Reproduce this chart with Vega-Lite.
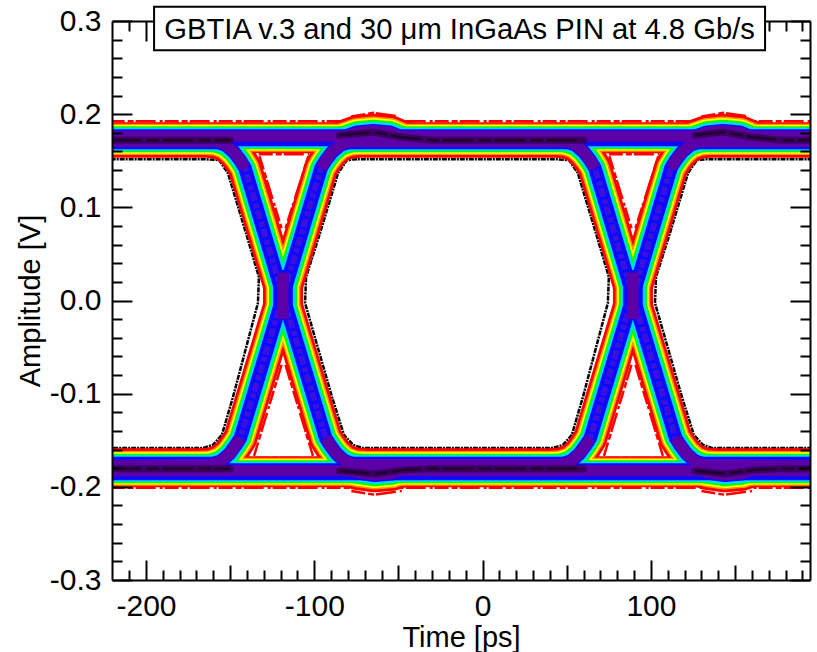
{"$schema":"https://vega.github.io/schema/vega-lite/v6.json","width":698,"height":559,"autosize":{"type":"none"},"padding":{"left":112,"top":21,"right":7,"bottom":72},"background":"white",
"config":{"view":{"stroke":null},"font":"Liberation Sans"},
"datasets":{
"bands":[
{"trace":"flatTop","t":-221,"v":0.1748},{"trace":"flatTop","t":196,"v":0.1748},
{"trace":"flatBot","t":-221,"v":-0.1839},{"trace":"flatBot","t":196,"v":-0.1839},
{"trace":"flatTa","t":-221,"v":0.1716},{"trace":"flatTa","t":-155,"v":0.1716},
{"trace":"flatTb","t":-82,"v":0.1716},{"trace":"flatTb","t":53,"v":0.1716},
{"trace":"flatTc","t":125,"v":0.1716},{"trace":"flatTc","t":196,"v":0.1716},
{"trace":"flatBa","t":-221,"v":-0.1769},{"trace":"flatBa","t":-155,"v":-0.1769},
{"trace":"flatBb","t":-82,"v":-0.1769},{"trace":"flatBb","t":53,"v":-0.1769},
{"trace":"flatBc","t":125,"v":-0.1769},{"trace":"flatBc","t":196,"v":-0.1769},
{"trace":"fall","t":-221,"v":0.1716},{"trace":"fall","t":-165.5,"v":0.1716},{"trace":"fall","t":-158.4,"v":0.1705},{"trace":"fall","t":-152.5,"v":0.1668},{"trace":"fall","t":-147.7,"v":0.1592},{"trace":"fall","t":-144.1,"v":0.1507},{"trace":"fall","t":-141.2,"v":0.1421},{"trace":"fall","t":-118.6,"v":0.0048},{"trace":"fall","t":-93.3,"v":-0.1475},{"trace":"fall","t":-90.3,"v":-0.156},{"trace":"fall","t":-86.8,"v":-0.1646},{"trace":"fall","t":-82,"v":-0.1721},{"trace":"fall","t":-76.1,"v":-0.1759},{"trace":"fall","t":-68.9,"v":-0.1769},{"trace":"fall","t":39.6,"v":-0.1769},{"trace":"fall","t":46.8,"v":-0.1759},{"trace":"fall","t":52.7,"v":-0.1721},{"trace":"fall","t":57.5,"v":-0.1646},{"trace":"fall","t":61,"v":-0.156},{"trace":"fall","t":64,"v":-0.1475},{"trace":"fall","t":89.3,"v":0.0048},{"trace":"fall","t":111.9,"v":0.1421},{"trace":"fall","t":114.8,"v":0.1507},{"trace":"fall","t":118.4,"v":0.1592},{"trace":"fall","t":123.2,"v":0.1668},{"trace":"fall","t":129.1,"v":0.1705},{"trace":"fall","t":136.2,"v":0.1716},{"trace":"fall","t":196,"v":0.1716},
{"trace":"rise","t":-221,"v":-0.1769},{"trace":"rise","t":-168.3,"v":-0.1769},{"trace":"rise","t":-161.1,"v":-0.1759},{"trace":"rise","t":-155.2,"v":-0.1721},{"trace":"rise","t":-150.4,"v":-0.1646},{"trace":"rise","t":-146.9,"v":-0.156},{"trace":"rise","t":-143.9,"v":-0.1475},{"trace":"rise","t":-118.6,"v":0.0048},{"trace":"rise","t":-96,"v":0.1421},{"trace":"rise","t":-93.1,"v":0.1507},{"trace":"rise","t":-89.5,"v":0.1592},{"trace":"rise","t":-84.7,"v":0.1668},{"trace":"rise","t":-78.8,"v":0.1705},{"trace":"rise","t":-71.7,"v":0.1716},{"trace":"rise","t":42.4,"v":0.1716},{"trace":"rise","t":49.5,"v":0.1705},{"trace":"rise","t":55.4,"v":0.1668},{"trace":"rise","t":60.2,"v":0.1592},{"trace":"rise","t":63.8,"v":0.1507},{"trace":"rise","t":66.7,"v":0.1421},{"trace":"rise","t":89.3,"v":0.0048},{"trace":"rise","t":114.6,"v":-0.1475},{"trace":"rise","t":117.6,"v":-0.156},{"trace":"rise","t":121.1,"v":-0.1646},{"trace":"rise","t":125.9,"v":-0.1721},{"trace":"rise","t":131.8,"v":-0.1759},{"trace":"rise","t":139,"v":-0.1769},{"trace":"rise","t":196,"v":-0.1769},
{"trace":"bumpT1","t":-84.7,"v":0.1743},{"trace":"bumpT1","t":-74.6,"v":0.1807},{"trace":"bumpT1","t":-65.1,"v":0.1823},{"trace":"bumpT1","t":-55,"v":0.1807},{"trace":"bumpT1","t":-47.9,"v":0.1753},{"trace":"bumpT1","t":-40.2,"v":0.1716},
{"trace":"bumpT2","t":123.2,"v":0.1743},{"trace":"bumpT2","t":133.3,"v":0.1807},{"trace":"bumpT2","t":142.8,"v":0.1823},{"trace":"bumpT2","t":152.9,"v":0.1807},{"trace":"bumpT2","t":160,"v":0.1753},{"trace":"bumpT2","t":167.7,"v":0.1716},
{"trace":"bumpB1","t":-84.7,"v":-0.1786},{"trace":"bumpB1","t":-74.6,"v":-0.185},{"trace":"bumpB1","t":-63.9,"v":-0.1877},{"trace":"bumpB1","t":-53.9,"v":-0.1861},{"trace":"bumpB1","t":-46.7,"v":-0.1818},{"trace":"bumpB1","t":-39,"v":-0.1775},
{"trace":"bumpB2","t":123.2,"v":-0.1786},{"trace":"bumpB2","t":133.3,"v":-0.185},{"trace":"bumpB2","t":144,"v":-0.1877},{"trace":"bumpB2","t":154,"v":-0.1861},{"trace":"bumpB2","t":161.2,"v":-0.1818},{"trace":"bumpB2","t":168.9,"v":-0.1775},
{"trace":"waist1a","t":-120.4,"v":0.0327},{"trace":"waist1a","t":-120.4,"v":-0.0209},
{"trace":"waist1b","t":-116.8,"v":0.0327},{"trace":"waist1b","t":-116.8,"v":-0.0209},
{"trace":"waist2a","t":87.5,"v":0.0327},{"trace":"waist2a","t":87.5,"v":-0.0209},
{"trace":"waist2b","t":91.1,"v":0.0327},{"trace":"waist2b","t":91.1,"v":-0.0209}
],
"core":[
{"trace":"coreTop","t":-221,"v":0.1764},{"trace":"coreTop","t":196,"v":0.1764},
{"trace":"coreBot","t":-221,"v":-0.1828},{"trace":"coreBot","t":196,"v":-0.1828},
{"trace":"coreTa","t":-221,"v":0.1705},{"trace":"coreTa","t":-158.4,"v":0.1705},{"trace":"coreTa","t":-152.5,"v":0.1668},{"trace":"coreTa","t":-147.7,"v":0.1592},{"trace":"coreTa","t":-144.1,"v":0.1507},{"trace":"coreTa","t":-141.2,"v":0.1421},
{"trace":"coreTb","t":-96,"v":0.1421},{"trace":"coreTb","t":-93.1,"v":0.1507},{"trace":"coreTb","t":-89.5,"v":0.1592},{"trace":"coreTb","t":-84.7,"v":0.1668},{"trace":"coreTb","t":-78.8,"v":0.1705},{"trace":"coreTb","t":49.5,"v":0.1705},{"trace":"coreTb","t":55.4,"v":0.1668},{"trace":"coreTb","t":60.2,"v":0.1592},{"trace":"coreTb","t":63.8,"v":0.1507},{"trace":"coreTb","t":66.7,"v":0.1421},
{"trace":"coreTc","t":111.9,"v":0.1421},{"trace":"coreTc","t":114.8,"v":0.1507},{"trace":"coreTc","t":118.4,"v":0.1592},{"trace":"coreTc","t":123.2,"v":0.1668},{"trace":"coreTc","t":129.1,"v":0.1705},{"trace":"coreTc","t":196,"v":0.1705},
{"trace":"coreBa","t":-221,"v":-0.1769},{"trace":"coreBa","t":-161.1,"v":-0.1759},{"trace":"coreBa","t":-155.2,"v":-0.1721},{"trace":"coreBa","t":-150.4,"v":-0.1646},{"trace":"coreBa","t":-146.9,"v":-0.156},{"trace":"coreBa","t":-143.9,"v":-0.1475},
{"trace":"coreBb","t":-93.3,"v":-0.1475},{"trace":"coreBb","t":-90.3,"v":-0.156},{"trace":"coreBb","t":-86.8,"v":-0.1646},{"trace":"coreBb","t":-82,"v":-0.1721},{"trace":"coreBb","t":-76.1,"v":-0.1759},{"trace":"coreBb","t":46.8,"v":-0.1759},{"trace":"coreBb","t":52.7,"v":-0.1721},{"trace":"coreBb","t":57.5,"v":-0.1646},{"trace":"coreBb","t":61,"v":-0.156},{"trace":"coreBb","t":64,"v":-0.1475},
{"trace":"coreBc","t":114.6,"v":-0.1475},{"trace":"coreBc","t":117.6,"v":-0.156},{"trace":"coreBc","t":121.1,"v":-0.1646},{"trace":"coreBc","t":125.9,"v":-0.1721},{"trace":"coreBc","t":131.8,"v":-0.1759},{"trace":"coreBc","t":196,"v":-0.1769},
{"trace":"bumpT1","t":-84.7,"v":0.1743},{"trace":"bumpT1","t":-74.6,"v":0.1807},{"trace":"bumpT1","t":-65.1,"v":0.1823},{"trace":"bumpT1","t":-55,"v":0.1807},{"trace":"bumpT1","t":-47.9,"v":0.1753},
{"trace":"bumpT2","t":123.2,"v":0.1743},{"trace":"bumpT2","t":133.3,"v":0.1807},{"trace":"bumpT2","t":142.8,"v":0.1823},{"trace":"bumpT2","t":152.9,"v":0.1807},{"trace":"bumpT2","t":160,"v":0.1753},
{"trace":"bumpB1","t":-84.7,"v":-0.1786},{"trace":"bumpB1","t":-74.6,"v":-0.185},{"trace":"bumpB1","t":-63.9,"v":-0.1877},{"trace":"bumpB1","t":-53.9,"v":-0.1861},{"trace":"bumpB1","t":-46.7,"v":-0.1818},
{"trace":"bumpB2","t":123.2,"v":-0.1786},{"trace":"bumpB2","t":133.3,"v":-0.185},{"trace":"bumpB2","t":144,"v":-0.1877},{"trace":"bumpB2","t":154,"v":-0.1861},{"trace":"bumpB2","t":161.2,"v":-0.1818},
{"trace":"cross1","t":-118.6,"v":0.03},{"trace":"cross1","t":-118.6,"v":-0.02},
{"trace":"cross2","t":89.3,"v":0.03},{"trace":"cross2","t":89.3,"v":-0.02}
],
"dark":[
{"trace":"d1","t":-221,"v":0.1721},{"trace":"d1","t":-150,"v":0.1721},
{"trace":"d2","t":-85,"v":0.1775},{"trace":"d2","t":-65.1,"v":0.1807},{"trace":"d2","t":-47.9,"v":0.1753},{"trace":"d2","t":-30,"v":0.1721},{"trace":"d2","t":60,"v":0.1721},
{"trace":"d3","t":126.1,"v":0.1775},{"trace":"d3","t":142.8,"v":0.1807},{"trace":"d3","t":160,"v":0.1753},{"trace":"d3","t":178,"v":0.1721},{"trace":"d3","t":196,"v":0.1721},
{"trace":"d4","t":-221,"v":-0.1807},{"trace":"d4","t":-150,"v":-0.1807},
{"trace":"d5","t":-85,"v":-0.1828},{"trace":"d5","t":-63.9,"v":-0.1861},{"trace":"d5","t":-46.7,"v":-0.1818},{"trace":"d5","t":-30,"v":-0.1807},{"trace":"d5","t":60,"v":-0.1807},
{"trace":"d6","t":126.1,"v":-0.1828},{"trace":"d6","t":144,"v":-0.1861},{"trace":"d6","t":161.2,"v":-0.1818},{"trace":"d6","t":178,"v":-0.1807},{"trace":"d6","t":196,"v":-0.1807}
],
"edges":[
{"trace":"L","t":-221,"v":0.1517},{"trace":"L","t":-164.9,"v":0.1517},{"trace":"L","t":-156.6,"v":0.1507},{"trace":"L","t":-151.3,"v":0.1367},{"trace":"L","t":-148.3,"v":0.1185},{"trace":"L","t":-140.6,"v":0.0724},{"trace":"L","t":-132.9,"v":0.0252},{"trace":"L","t":-133.5,"v":-0.0027},{"trace":"L","t":-148.3,"v":-0.1035},{"trace":"L","t":-154.9,"v":-0.1442},{"trace":"L","t":-160.2,"v":-0.155},{"trace":"L","t":-166.1,"v":-0.1582},{"trace":"L","t":-221,"v":-0.1582},
{"trace":"C","t":-74.6,"v":0.1517},{"trace":"C","t":-80.6,"v":0.1507},{"trace":"C","t":-85.9,"v":0.1367},{"trace":"C","t":-88.9,"v":0.1185},{"trace":"C","t":-96.6,"v":0.0724},{"trace":"C","t":-104.9,"v":0.0252},{"trace":"C","t":-105.5,"v":-0.0027},{"trace":"C","t":-89.5,"v":-0.1035},{"trace":"C","t":-82.4,"v":-0.1442},{"trace":"C","t":-77,"v":-0.155},{"trace":"C","t":-71.7,"v":-0.1582},{"trace":"C","t":41.8,"v":-0.1582},{"trace":"C","t":47.7,"v":-0.155},{"trace":"C","t":53,"v":-0.1442},{"trace":"C","t":59.6,"v":-0.1035},{"trace":"C","t":74.4,"v":-0.0027},{"trace":"C","t":75,"v":0.0252},{"trace":"C","t":67.3,"v":0.0724},{"trace":"C","t":59.6,"v":0.1185},{"trace":"C","t":56.6,"v":0.1367},{"trace":"C","t":51.3,"v":0.1507},{"trace":"C","t":43,"v":0.1517},{"trace":"C","t":-74.6,"v":0.1517},
{"trace":"R","t":196,"v":0.1517},{"trace":"R","t":133.3,"v":0.1517},{"trace":"R","t":127.3,"v":0.1507},{"trace":"R","t":122,"v":0.1367},{"trace":"R","t":119,"v":0.1185},{"trace":"R","t":111.3,"v":0.0724},{"trace":"R","t":103,"v":0.0252},{"trace":"R","t":102.4,"v":-0.0027},{"trace":"R","t":118.4,"v":-0.1035},{"trace":"R","t":125.5,"v":-0.1442},{"trace":"R","t":130.9,"v":-0.155},{"trace":"R","t":136.2,"v":-0.1582},{"trace":"R","t":196,"v":-0.1582}
],
"specks":[
{"trace":"top","t":-221,"v":0.1925},{"trace":"top","t":196,"v":0.1925},
{"trace":"bot","t":-221,"v":-0.2011},{"trace":"bot","t":196,"v":-0.2011},
{"trace":"bump1","t":-78,"v":0.1975},{"trace":"bump1","t":-65,"v":0.2015},{"trace":"bump1","t":-50,"v":0.1975},
{"trace":"bump2","t":130,"v":0.1975},{"trace":"bump2","t":143,"v":0.2015},{"trace":"bump2","t":158,"v":0.1975},
{"trace":"bump3","t":-78,"v":-0.2045},{"trace":"bump3","t":-64,"v":-0.2085},{"trace":"bump3","t":-48,"v":-0.2045},
{"trace":"bump4","t":130,"v":-0.2045},{"trace":"bump4","t":144,"v":-0.2085},{"trace":"bump4","t":160,"v":-0.2045},
{"trace":"a1l","t":-132.6,"v":0.155},{"trace":"a1l","t":-119.5,"v":0.0777},
{"trace":"a1r","t":-103.5,"v":0.155},{"trace":"a1r","t":-117.1,"v":0.0777},
{"trace":"a1b","t":-133,"v":0.1571},{"trace":"a1b","t":-103,"v":0.1571},
{"trace":"a2l","t":-135.8,"v":-0.1668},{"trace":"a2l","t":-119.5,"v":-0.0692},
{"trace":"a2r","t":-100.8,"v":-0.1668},{"trace":"a2r","t":-117.1,"v":-0.0692},
{"trace":"a2b","t":-135,"v":-0.1689},{"trace":"a2b","t":-102,"v":-0.1689},
{"trace":"b1l","t":75.3,"v":0.155},{"trace":"b1l","t":88.4,"v":0.0777},
{"trace":"b1r","t":104.4,"v":0.155},{"trace":"b1r","t":90.8,"v":0.0777},
{"trace":"b1b","t":75,"v":0.1571},{"trace":"b1b","t":105,"v":0.1571},
{"trace":"b2l","t":72.1,"v":-0.1668},{"trace":"b2l","t":88.4,"v":-0.0692},
{"trace":"b2r","t":107.1,"v":-0.1668},{"trace":"b2r","t":90.8,"v":-0.0692},
{"trace":"b2b","t":73,"v":-0.1689},{"trace":"b2b","t":106,"v":-0.1689}
],
"box":[{"t0":-195.2,"t1":167.8,"v0":0.2686,"v1":0.3153,"t":-13.7,"v":0.2905,"label":"GBTIA v.3 and 30 μm InGaAs PIN at 4.8 Gb/s"}],
"frame":[{"t":0,"v":0}]
},
"layer":[
{"encoding":{"x":{"field":"t","type":"quantitative","axis":null,"scale":{"domain":[-220.2,194.5],"nice":false,"zero":false}},"y":{"field":"v","type":"quantitative","axis":null,"scale":{"domain":[-0.3,0.3],"nice":false,"zero":false}},"detail":{"field":"trace"},"order":{"value":null}},
"layer":[
{"data":{"name":"edges"},"mark":{"type":"line","clip":true,"color":"black","strokeWidth":2.5,"strokeDash":[5,1,2,1]}},
{"data":{"name":"specks"},"mark":{"type":"line","clip":true,"color":"#ff0000","strokeWidth":2.5,"strokeDash":[14,3,6,2,20,4,3,2]}},
{"data":{"name":"bands"},"mark":{"type":"line","clip":true,"color":"#ff0000","strokeJoin":"round"},"encoding":{"strokeWidth":{"condition":{"test":"indexof(datum.trace,'flat')==0","value":31},"value":34}}},
{"data":{"name":"bands"},"mark":{"type":"line","clip":true,"color":"#ff9000","strokeJoin":"round"},"encoding":{"strokeWidth":{"condition":{"test":"indexof(datum.trace,'flat')==0","value":28},"value":28.5}}},
{"data":{"name":"bands"},"mark":{"type":"line","clip":true,"color":"#ffff00","strokeJoin":"round"},"encoding":{"strokeWidth":{"condition":{"test":"indexof(datum.trace,'flat')==0","value":25.5},"value":25.5}}},
{"data":{"name":"bands"},"mark":{"type":"line","clip":true,"color":"#00ff00","strokeJoin":"round"},"encoding":{"strokeWidth":{"condition":{"test":"indexof(datum.trace,'flat')==0","value":23},"value":22}}},
{"data":{"name":"bands"},"mark":{"type":"line","clip":true,"color":"#00d4ff","strokeJoin":"round"},"encoding":{"strokeWidth":{"condition":{"test":"indexof(datum.trace,'flat')==0","value":20},"value":18}}},
{"data":{"name":"bands"},"mark":{"type":"line","clip":true,"color":"#0a0aff","strokeJoin":"round"},"encoding":{"strokeWidth":{"condition":{"test":"indexof(datum.trace,'flat')==0","value":17},"value":13.5}}},
{"data":{"name":"bands"},"transform":[{"filter":"datum.trace=='fall'||datum.trace=='rise'"}],"mark":{"type":"line","clip":true,"color":"#3a10e0","strokeWidth":6,"strokeJoin":"round","strokeDash":[9,3,5,2]}},
{"data":{"name":"core"},"mark":{"type":"line","clip":true,"color":"#5c00a8","strokeWidth":11,"strokeJoin":"round"}},
{"data":{"name":"dark"},"mark":{"type":"line","clip":true,"color":"#3c0064","strokeWidth":7,"strokeJoin":"round","strokeCap":"round"}},
{"data":{"name":"dark"},"mark":{"type":"line","clip":true,"color":"#20002c","strokeWidth":2.5,"strokeJoin":"round","strokeDash":[30,6,12,4]}}
]},
{"data":{"name":"box"},"mark":{"type":"rect","fill":"white","stroke":"black","strokeWidth":2,"clip":false},"encoding":{"x":{"field":"t0","type":"quantitative","axis":null},"x2":{"field":"t1"},"y":{"field":"v0","type":"quantitative","axis":null},"y2":{"field":"v1"}}},
{"data":{"name":"box"},"mark":{"type":"text","fontSize":29.2,"font":"Liberation Sans","color":"black","align":"center","baseline":"middle","clip":false},"encoding":{"x":{"field":"t","type":"quantitative","axis":null},"y":{"field":"v","type":"quantitative","axis":null},"text":{"field":"label"}}},
{"data":{"name":"frame"},"mark":{"type":"point","opacity":0},"encoding":{
"x":{"field":"t","type":"quantitative","scale":{"domain":[-220.2,194.5],"nice":false,"zero":false},"axis":{"orient":"bottom","title":"Time [ps]","zindex":1,"grid":false,"values":[-210,-200,-190,-180,-170,-160,-150,-140,-130,-120,-110,-100,-90,-80,-70,-60,-50,-40,-30,-20,-10,0,10,20,30,40,50,60,70,80,90,100,110,120,130,140,150,160,170,180,190],"labelExpr":"datum.value%100==0?replace(datum.label,'\u2212','-'):''","format":"d","labelFont":"Liberation Sans","labelFontSize":30,"labelColor":"black","labelPadding":31,"labelOverlap":false,"labelFlush":false,"titleFont":"Liberation Sans","titleFontSize":29,"titleFontWeight":"normal","titleColor":"black","titlePadding":-8,"domainColor":"black","domainWidth":2,"tickColor":"black","tickWidth":2,"tickSize":{"condition":[{"test":"datum.value%100==0","value":-20},{"test":"datum.value%50==0","value":-15}],"value":-10}}},
"y":{"field":"v","type":"quantitative","scale":{"domain":[-0.3,0.3],"nice":false,"zero":false},"axis":{"orient":"left","title":"Amplitude [V]","zindex":1,"grid":false,"values":[-0.3,-0.28,-0.26,-0.24,-0.22,-0.2,-0.18,-0.16,-0.14,-0.12,-0.1,-0.08,-0.06,-0.04,-0.02,0,0.02,0.04,0.06,0.08,0.1,0.12,0.14,0.16,0.18,0.2,0.22,0.24,0.26,0.28,0.3],"labelExpr":"abs(datum.value*10-round(datum.value*10))<0.001?replace(datum.label,'\u2212','-'):''","format":".1f","labelFont":"Liberation Sans","labelFontSize":30,"labelColor":"black","labelPadding":31,"labelOverlap":false,"labelFlush":false,"titleFont":"Liberation Sans","titleFontSize":29,"titleFontWeight":"normal","titleColor":"black","titlePadding":4,"domainColor":"black","domainWidth":2,"tickColor":"black","tickWidth":2,"tickSize":{"condition":{"test":"abs(datum.value*10-round(datum.value*10))<0.001","value":-20},"value":-10}}}}},
{"data":{"name":"frame"},"mark":{"type":"point","opacity":0},"encoding":{
"x":{"field":"t","type":"quantitative","axis":{"orient":"top","title":null,"zindex":0,"grid":false,"labels":false,"values":[-210,-200,-190,-180,-170,-160,-150,-140,-130,-120,-110,-100,-90,-80,-70,-60,-50,-40,-30,-20,-10,0,10,20,30,40,50,60,70,80,90,100,110,120,130,140,150,160,170,180,190],"domainColor":"black","domainWidth":2,"tickColor":"black","tickWidth":2,"tickSize":{"condition":[{"test":"datum.value%100==0","value":-20},{"test":"datum.value%50==0","value":-15}],"value":-10}}},
"y":{"field":"v","type":"quantitative","axis":{"orient":"right","title":null,"zindex":1,"grid":false,"labels":false,"values":[-0.3,-0.28,-0.26,-0.24,-0.22,-0.2,-0.18,-0.16,-0.14,-0.12,-0.1,-0.08,-0.06,-0.04,-0.02,0,0.02,0.04,0.06,0.08,0.1,0.12,0.14,0.16,0.18,0.2,0.22,0.24,0.26,0.28,0.3],"domainColor":"black","domainWidth":2,"tickColor":"black","tickWidth":2,"tickSize":{"condition":{"test":"abs(datum.value*10-round(datum.value*10))<0.001","value":-20},"value":-10}}}}}
],
"resolve":{"axis":{"x":"independent","y":"independent"}}
}
